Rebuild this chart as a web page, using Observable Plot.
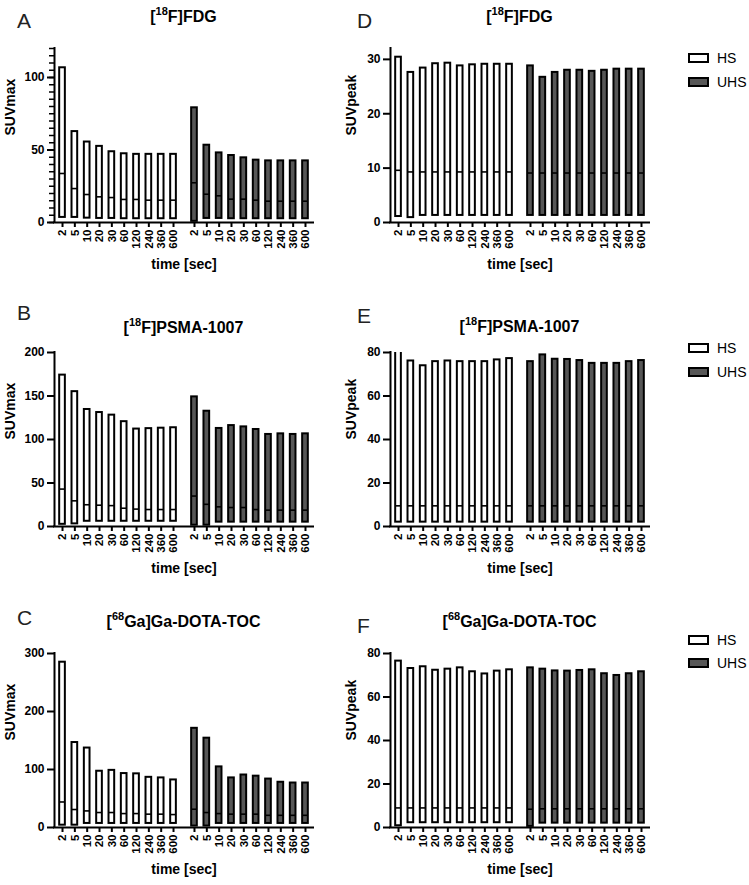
<!DOCTYPE html>
<html>
<head>
<meta charset="utf-8">
<script src="https://cdn.jsdelivr.net/npm/d3@7"></script>
<script src="https://cdn.jsdelivr.net/npm/@observablehq/plot@0.6"></script>
<style>
  body { margin: 0; background: #fff; font-family: "Liberation Sans", Arial, sans-serif; color: #000; }
  #root { position: relative; width: 749px; height: 885px; overflow: hidden; }
  .abs { position: absolute; }
  .letter { font-size: 21px; font-weight: normal; line-height: 1; color: #222; }
  .title { font-size: 16px; font-weight: bold; line-height: 1; text-align: center; width: 259px; white-space: nowrap; }
  .title sup { font-size: 11px; vertical-align: baseline; position: relative; top: -0.55em; }
  .sw { box-sizing: border-box; width: 21px; height: 10px; border: 2px solid #000; }
  .lg { font-size: 14px; line-height: 16px; }
</style>
</head>
<body>
<div id="root"></div>
<script>
// ---- categories ----
const times = ["2", "5", "10", "20", "30", "60", "120", "240", "360", "600"];
const groups = ["HS", "UHS"];

// ---- A: [18F]FDG SUVmax ----
const A_HS_max = [106.7, 62.7, 55.5, 52.5, 48.8, 47.4, 47, 47, 47, 47];
const A_HS_med = [33.8, 23.4, 19.3, 17.7, 17.2, 15.9, 15.9, 15.4, 15.4, 15.4];
const A_HS_min = [3.5, 3.5, 3, 2.8, 2.8, 2.6, 2.6, 2.6, 2.6, 2.6];
const A_UHS_max = [79.1, 53.3, 48, 46.2, 44.6, 43, 42.5, 42.5, 42.5, 42.5];
const A_UHS_med = [27.4, 19.5, 18.4, 16.1, 16.1, 15.4, 14.7, 14.7, 14.7, 14.7];
const A_UHS_min = [0.8, 2.8, 2.8, 2.6, 2.6, 2.6, 2.6, 2.6, 2.6, 2.6];

// ---- B: [18F]PSMA-1007 SUVmax ----
const B_HS_max = [174, 155, 134.5, 131, 128, 120.5, 112, 112.5, 113, 113.5];
const B_HS_med = [43, 29.5, 25, 24.5, 24, 21, 20, 19.5, 19.5, 19.5];
const B_HS_min = [2.5, 3, 6, 6, 6, 6, 6, 6, 6, 6];
const B_UHS_max = [149, 132.5, 112.7, 116, 114.5, 111.5, 105.8, 106.5, 105.8, 106.5];
const B_UHS_med = [35, 25.5, 22.6, 21.8, 21.8, 19.5, 18.8, 18.8, 18.8, 18.8];
const B_UHS_min = [1.5, 1.5, 5, 5, 5, 5, 5, 5, 5, 5];

// ---- C: [68Ga]Ga-DOTA-TOC SUVmax ----
const C_HS_max = [285, 146.5, 137, 97, 98.5, 93, 92.5, 86.5, 85.5, 82];
const C_HS_med = [44, 31, 28.6, 25.8, 25.8, 24, 24, 23, 23, 22.3];
const C_HS_min = [4, 4, 7, 7, 7, 7, 7, 7, 7, 7];
const C_UHS_max = [171, 154, 104.5, 85.5, 90.5, 88.5, 83.5, 78, 76.7, 76.7];
const C_UHS_med = [31.5, 25.8, 24, 23, 23, 23, 21, 21, 21, 21];
const C_UHS_min = [2.5, 2.5, 7, 7, 7, 7, 7, 7, 7, 7];

// ---- D: [18F]FDG SUVpeak ----
const D_HS_max = [30.4, 27.6, 28.4, 29.2, 29.3, 28.8, 29.0, 29.1, 29.1, 29.1];
const D_HS_med = [9.6, 9.3, 9.3, 9.3, 9.3, 9.3, 9.3, 9.3, 9.3, 9.3];
const D_HS_min = [1.1, 0.9, 1.3, 1.3, 1.3, 1.3, 1.3, 1.3, 1.3, 1.3];
const D_UHS_max = [28.8, 26.7, 27.6, 28.0, 28.0, 27.8, 28.0, 28.2, 28.2, 28.2];
const D_UHS_med = [9.1, 9.1, 9.1, 9.1, 9.1, 9.1, 9.1, 9.1, 9.1, 9.1];
const D_UHS_min = [1.3, 1.3, 1.3, 1.3, 1.3, 1.3, 1.3, 1.3, 1.3, 1.3];

// ---- E: [18F]PSMA-1007 SUVpeak ----
const E_HS_max = [82, 76.1, 73.9, 75.8, 76.1, 75.8, 75.8, 75.8, 76.6, 77.2];
const E_HS_med = [9.5, 9.5, 9.5, 9.5, 9.5, 9.5, 9.5, 9.5, 9.5, 9.5];
const E_HS_min = [2, 2, 2, 2, 2, 2, 2, 2, 2, 2];
const E_UHS_max = [75.8, 78.9, 76.9, 76.8, 76.3, 75.0, 75.0, 75.0, 75.8, 76.3];
const E_UHS_med = [9.5, 9.5, 9.5, 9.5, 9.5, 9.5, 9.5, 9.5, 9.5, 9.5];
const E_UHS_min = [2, 2, 2, 2, 2, 2, 2, 2, 2, 2];

// ---- F: [68Ga]Ga-DOTA-TOC SUVpeak ----
const F_HS_max = [76.5, 73.1, 73.9, 72.3, 72.8, 73.4, 71.6, 70.6, 71.9, 72.5];
const F_HS_med = [9, 9, 9, 9, 9, 9, 9, 9, 9, 9];
const F_HS_min = [0.8, 2.2, 2.2, 2.2, 2.2, 2.2, 2.2, 2.2, 2.2, 2.2];
const F_UHS_max = [73.4, 72.8, 72.0, 71.9, 72.2, 72.5, 70.7, 69.9, 70.7, 71.6];
const F_UHS_med = [8.4, 8.6, 8.6, 8.6, 8.6, 8.6, 8.6, 8.6, 8.6, 8.6];
const F_UHS_min = [0.5, 2, 2, 2, 2, 2, 2, 2, 2, 2];

// ---- axis ticks ----
const ticksA = [0, 50, 100];
const ticksB = [0, 50, 100, 150, 200];
const ticksC = [0, 100, 200, 300];
const ticksD = [0, 10, 20, 30];
const ticksE = [0, 20, 40, 60, 80];
const ticksF = [0, 20, 40, 60, 80];

const GROUP_OFFSET = 10.7;   // slot offset of the UHS block
const HALF = 0.23;           // half bar width in slot units
const UHS_FILL = "#575757";
const FONT = "'Liberation Sans', Arial, sans-serif";

function panel(hsMax, hsMed, hsMin, uhsMax, uhsMed, uhsMin, opts) {
  const series = {HS: [hsMax, hsMed, hsMin], UHS: [uhsMax, uhsMed, uhsMin]};
  const rows = [];
  const tickPos = [];
  const tickLab = new Map();
  groups.forEach((g, gi) => {
    const [mx, md, mn] = series[g];
    times.forEach((t, i) => {
      const pos = i + gi * GROUP_OFFSET;
      rows.push({group: g, time: t, pos, max: mx[i], median: md[i], min: mn[i]});
      tickPos.push(pos);
      tickLab.set(pos, t);
    });
  });
  const x0 = -0.65, x1 = (times.length - 1) + GROUP_OFFSET + 0.65;
  const marks = [
    Plot.rect(rows, {
      x1: d => d.pos - HALF, x2: d => d.pos + HALF, y1: "min", y2: "max",
      fill: d => d.group === "HS" ? "#ffffff" : UHS_FILL,
      stroke: "#000", strokeWidth: 2, clip: true
    }),
    Plot.ruleY(rows, {x1: d => d.pos - HALF, x2: d => d.pos + HALF, y: "median", stroke: "#000", strokeWidth: 1.6, clip: true}),
  ];
  if (opts.minor) {
    marks.push(Plot.axisY({ticks: opts.minor, tickSize: 5, tickFormat: () => "", strokeWidth: 1.5}));
  }
  marks.push(
    Plot.axisY({ticks: opts.ticks, tickSize: 7, tickPadding: 3, fontSize: 12, fontWeight: "bold", strokeWidth: 2, label: null, tickFormat: d => String(d)}),
    Plot.axisX({ticks: tickPos, tickFormat: p => tickLab.get(p), tickRotate: -90, tickSize: 5, tickPadding: 2, fontSize: 11.5, fontWeight: "bold", strokeWidth: 2, label: null}),
    Plot.ruleX([x0], {stroke: "#000", strokeWidth: 2, strokeLinecap: "square"}),
    Plot.ruleY([0], {stroke: "#000", strokeWidth: 2, strokeLinecap: "square"}),
    Plot.text([opts.yLabel], {frameAnchor: "left", dx: opts.labelDx, rotate: -90, fontSize: 14, fontWeight: "bold", fill: "#000"}),
    Plot.text(["time [sec]"], {frameAnchor: "bottom", dy: 46, fontSize: 14, fontWeight: "bold", fill: "#000"})
  );
  return Plot.plot({
    width: 318, height: 238,
    marginLeft: 54, marginRight: 5, marginTop: 8, marginBottom: 56,
    x: {type: "linear", domain: [x0, x1]},
    y: {domain: opts.domain},
    style: {fontFamily: FONT, background: "transparent", color: "#000", overflow: "visible"},
    marks
  });
}

const root = document.getElementById("root");
function place(el, left, top) {
  const d = document.createElement("div");
  d.className = "abs";
  d.style.left = left + "px";
  d.style.top = top + "px";
  d.appendChild(el);
  root.appendChild(d);
}
function html(cls, left, top, content) {
  const d = document.createElement("div");
  d.className = "abs " + cls;
  d.style.left = left + "px";
  d.style.top = top + "px";
  d.innerHTML = content;
  root.appendChild(d);
  return d;
}

// left column
place(panel(A_HS_max, A_HS_med, A_HS_min, A_UHS_max, A_UHS_med, A_UHS_min,
  {domain: [0, 120], ticks: ticksA, minor: d3.range(0, 121, 5), yLabel: "SUVmax", labelDx: -44}), 0, 40);
place(panel(B_HS_max, B_HS_med, B_HS_min, B_UHS_max, B_UHS_med, B_UHS_min,
  {domain: [0, 200], ticks: ticksB, yLabel: "SUVmax", labelDx: -44}), 0, 344);
place(panel(C_HS_max, C_HS_med, C_HS_min, C_UHS_max, C_UHS_med, C_UHS_min,
  {domain: [0, 300], ticks: ticksC, yLabel: "SUVmax", labelDx: -44}), 0, 645);
// right column
place(panel(D_HS_max, D_HS_med, D_HS_min, D_UHS_max, D_UHS_med, D_UHS_min,
  {domain: [0, 32], ticks: ticksD, yLabel: "SUVpeak", labelDx: -39}), 336, 40);
place(panel(E_HS_max, E_HS_med, E_HS_min, E_UHS_max, E_UHS_med, E_UHS_min,
  {domain: [0, 80], ticks: ticksE, yLabel: "SUVpeak", labelDx: -39}), 336, 344);
place(panel(F_HS_max, F_HS_med, F_HS_min, F_UHS_max, F_UHS_med, F_UHS_min,
  {domain: [0, 80], ticks: ticksF, yLabel: "SUVpeak", labelDx: -39}), 336, 645);

// panel letters
html("letter", 17, 10, "A");
html("letter", 17, 302, "B");
html("letter", 17, 607, "C");
html("letter", 357, 10, "D");
html("letter", 357, 305, "E");
html("letter", 357, 615, "F");

// titles
const titleFDG = "[<sup>18</sup>F]FDG";
const titlePSMA = "[<sup>18</sup>F]PSMA-1007";
const titleTOC = "[<sup>68</sup>Ga]Ga-DOTA-TOC";
html("title", 54, 8.5, titleFDG);
html("title", 54, 319.5, titlePSMA);
html("title", 54, 613.5, titleTOC);
html("title", 390, 8.5, titleFDG);
html("title", 390, 318.5, titlePSMA);
html("title", 390, 613.5, titleTOC);

// legends
[[58, 82], [348, 372], [640, 663]].forEach(([yHS, yUHS]) => {
  const s1 = html("sw", 688, yHS - 5, ""); s1.style.background = "#fff";
  html("lg", 717, yHS - 8, groups[0]);
  const s2 = html("sw", 688, yUHS - 5, ""); s2.style.background = UHS_FILL;
  html("lg", 717, yUHS - 8, groups[1]);
});
</script>
</body>
</html>
